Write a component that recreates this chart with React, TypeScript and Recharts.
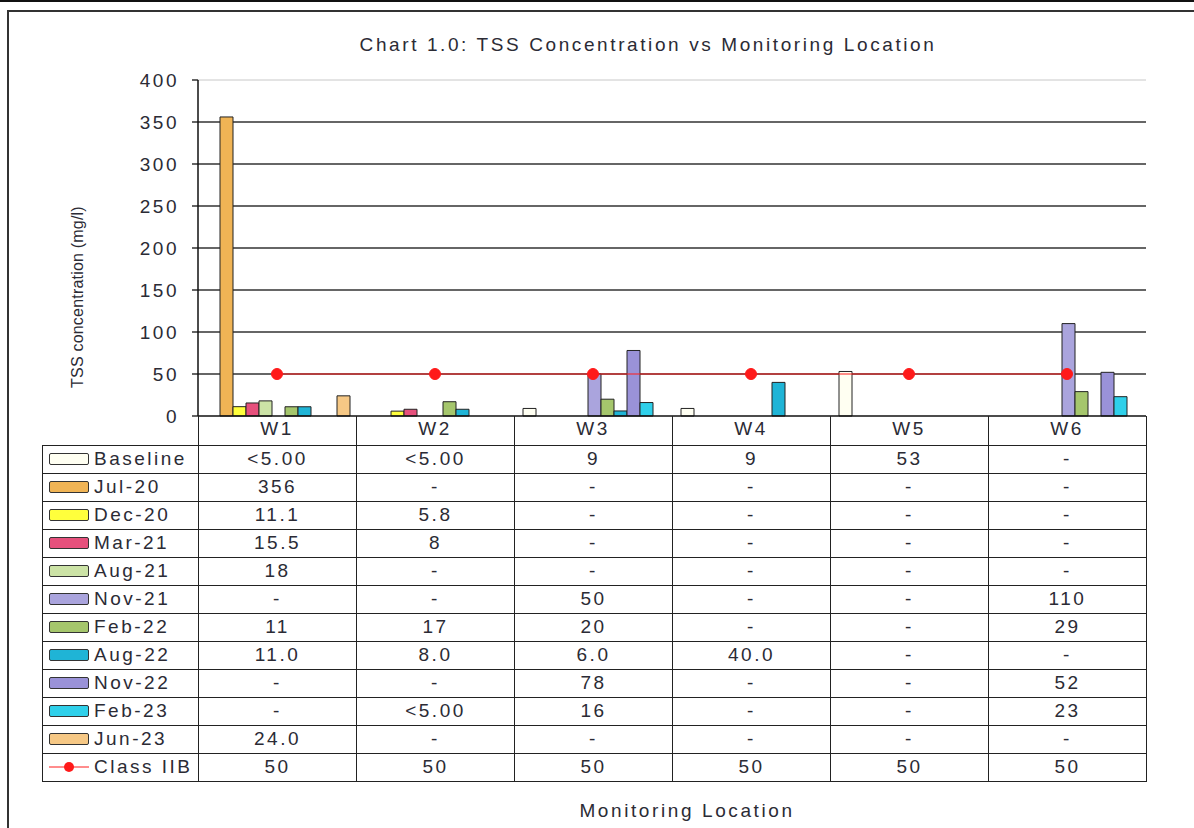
import { ComposedChart, Bar, Line, XAxis, YAxis, CartesianGrid, ReferenceLine } from 'recharts';

// values as printed in the data table; "<5.00" and "-" are not plotted
const LOCATIONS = ['W1', 'W2', 'W3', 'W4', 'W5', 'W6'];
const BASELINE = ['<5.00', '<5.00', '9', '9', '53', '-'];
const JUL_20 = ['356', '-', '-', '-', '-', '-'];
const DEC_20 = ['11.1', '5.8', '-', '-', '-', '-'];
const MAR_21 = ['15.5', '8', '-', '-', '-', '-'];
const AUG_21 = ['18', '-', '-', '-', '-', '-'];
const NOV_21 = ['-', '-', '50', '-', '-', '110'];
const FEB_22 = ['11', '17', '20', '-', '-', '29'];
const AUG_22 = ['11.0', '8.0', '6.0', '40.0', '-', '-'];
const NOV_22 = ['-', '-', '78', '-', '-', '52'];
const FEB_23 = ['-', '<5.00', '16', '-', '-', '23'];
const JUN_23 = ['24.0', '-', '-', '-', '-', '-'];
const CLASS_IIB = [50, 50, 50, 50, 50, 50];
const Y_TICKS = [0, 50, 100, 150, 200, 250, 300, 350, 400];

const SERIES = [
    { key: 'baseline', name: 'Baseline', values: BASELINE, fill: '#fffff2' },
    { key: 'jul20', name: 'Jul-20', values: JUL_20, fill: '#f0b455' },
    { key: 'dec20', name: 'Dec-20', values: DEC_20, fill: '#ffff3c' },
    { key: 'mar21', name: 'Mar-21', values: MAR_21, fill: '#e6507c' },
    { key: 'aug21', name: 'Aug-21', values: AUG_21, fill: '#cce3a6' },
    { key: 'nov21', name: 'Nov-21', values: NOV_21, fill: '#aaa4dd' },
    { key: 'feb22', name: 'Feb-22', values: FEB_22, fill: '#a5c66c' },
    { key: 'aug22', name: 'Aug-22', values: AUG_22, fill: '#1fb4d6' },
    { key: 'nov22', name: 'Nov-22', values: NOV_22, fill: '#9a92d8' },
    { key: 'feb23', name: 'Feb-23', values: FEB_23, fill: '#2fd0ea' },
    { key: 'jun23', name: 'Jun-23', values: JUN_23, fill: '#f6c885' },
];

const FONT = '"Liberation Sans", Arial, sans-serif';
const INK = '#2b2b35';
const LINE_RED = '#ff1a1a';

const toNum = (s: string) => {
    const n = Number(s);
    return Number.isFinite(n) ? n : null;
};

const data = LOCATIONS.map((loc, i) => {
    const row: Record<string, string | number | null> = { loc, classIIB: CLASS_IIB[i] };
    SERIES.forEach(s => {
        row[s.key] = toNum(s.values[i]);
    });
    return row;
});

const textStyle = { fill: INK, fontSize: 19, letterSpacing: 2.5, fontFamily: FONT };

const cellBorder = '1.5px solid #222';

function Swatch({ fill }: { fill: string }) {
    return (
        <span
            style={{
                display: 'inline-block',
                width: 38,
                height: 10,
                background: fill,
                border: '1px solid #333',
                borderRadius: 2,
                marginLeft: 6,
                marginRight: 5,
                flex: 'none',
            }}
        />
    );
}

function LineSwatch() {
    return (
        <svg width={40} height={14} style={{ marginLeft: 6, marginRight: 5, flex: 'none' }}>
            <line x1={0} y1={7} x2={40} y2={7} stroke={LINE_RED} strokeWidth={1} />
            <circle cx={20} cy={7} r={5} fill={LINE_RED} />
        </svg>
    );
}

function DataTable() {
    const rows = [
        ...SERIES.map(s => ({ name: s.name, cells: s.values, swatch: <Swatch fill={s.fill} /> })),
        { name: 'Class IIB', cells: CLASS_IIB.map(String), swatch: <LineSwatch /> },
    ];
    const td = { border: cellBorder, textAlign: 'center' as const, padding: 0, height: 27, lineHeight: '20px' };
    return (
        <table
            style={{
                position: 'absolute',
                left: 42,
                top: 416,
                borderCollapse: 'collapse',
                tableLayout: 'fixed',
                width: 1104,
                fontFamily: FONT,
                fontSize: 19,
                letterSpacing: 2.5,
                color: INK,
            }}
        >
            <colgroup>
                <col style={{ width: 156 }} />
                {LOCATIONS.map(l => (
                    <col key={l} style={{ width: 158 }} />
                ))}
            </colgroup>
            <tbody>
                <tr style={{ height: 29 }}>
                    <td style={{ padding: 0 }} />
                    {LOCATIONS.map(l => (
                        <td key={l} style={{ padding: 0, borderLeft: cellBorder, borderRight: cellBorder }} />
                    ))}
                </tr>
                {rows.map(r => (
                    <tr key={r.name}>
                        <td style={{ ...td, textAlign: 'left' }}>
                            <div style={{ display: 'flex', alignItems: 'center', whiteSpace: 'nowrap' }}>
                                {r.swatch}
                                <span>{r.name}</span>
                            </div>
                        </td>
                        {r.cells.map((c, i) => (
                            <td key={i} style={td}>
                                {c}
                            </td>
                        ))}
                    </tr>
                ))}
            </tbody>
        </table>
    );
}

export default function App() {
    return (
        <div
            style={{
                position: 'absolute',
                left: 0,
                top: 0,
                width: 1194,
                height: 828,
                overflow: 'hidden',
                background: '#fff',
                fontFamily: FONT,
            }}
        >
            <div style={{ position: 'absolute', left: 0, top: 0, width: 1194, height: 2, background: '#111' }} />
            <div
                style={{
                    position: 'absolute',
                    left: 7,
                    top: 10,
                    width: 1300,
                    height: 900,
                    border: '2px solid #333',
                }}
            />
            <ComposedChart
                width={1194}
                height={828}
                data={data}
                margin={{ top: 80, right: 48, left: 138, bottom: 383 }}
                barGap={0}
                barCategoryGap={9}
                style={{ position: 'absolute', left: 0, top: 0 }}
            >
                <CartesianGrid
                    yAxisId="l"
                    vertical={false}
                    horizontalValues={[50, 100, 150, 200, 250, 300, 350]}
                    stroke="#333"
                    strokeWidth={1.3}
                />
                <XAxis
                    dataKey="loc"
                    height={29}
                    interval={0}
                    axisLine={{ stroke: '#111', strokeWidth: 1.5 }}
                    tickLine={false}
                    tickSize={0}
                    tickMargin={6}
                    tick={textStyle}
                />
                <YAxis
                    yAxisId="l"
                    width={60}
                    domain={[0, 400]}
                    ticks={Y_TICKS}
                    interval={0}
                    axisLine={{ stroke: '#111', strokeWidth: 1.5 }}
                    tickLine={{ stroke: '#111', strokeWidth: 1.3 }}
                    tickSize={6}
                    tickMargin={13}
                    tick={textStyle}
                />
                <YAxis
                    yAxisId="r"
                    orientation="right"
                    width={0}
                    domain={[0, 400]}
                    tick={false}
                    tickLine={false}
                    axisLine={{ stroke: '#c8c8c8' }}
                />
                <ReferenceLine yAxisId="l" y={400} stroke="#c8c8c8" />
                {SERIES.map(s => (
                    <Bar
                        key={s.key}
                        yAxisId="l"
                        dataKey={s.key}
                        name={s.name}
                        fill={s.fill}
                        stroke="#222"
                        strokeWidth={1}
                        isAnimationActive={false}
                    />
                ))}
                <Line
                    yAxisId="l"
                    dataKey="classIIB"
                    name="Class IIB"
                    stroke={LINE_RED}
                    strokeWidth={1}
                    dot={{ r: 5.5, fill: LINE_RED, stroke: LINE_RED }}
                    isAnimationActive={false}
                />
            </ComposedChart>
            <DataTable />
            <div
                style={{
                    position: 'absolute',
                    left: 248,
                    top: 34,
                    width: 800,
                    textAlign: 'center',
                    fontSize: 19,
                    letterSpacing: 2.6,
                    color: INK,
                }}
            >
                Chart 1.0: TSS Concentration vs Monitoring Location
            </div>
            <div
                style={{
                    position: 'absolute',
                    left: -72,
                    top: 287,
                    width: 300,
                    height: 20,
                    lineHeight: '20px',
                    textAlign: 'center',
                    transform: 'rotate(-90deg)',
                    fontSize: 16,
                    letterSpacing: 0.2,
                    color: INK,
                }}
            >
                TSS concentration (mg/l)
            </div>
            <div
                style={{
                    position: 'absolute',
                    left: 487,
                    top: 800,
                    width: 400,
                    textAlign: 'center',
                    fontSize: 19,
                    letterSpacing: 2.6,
                    color: INK,
                }}
            >
                Monitoring Location
            </div>
        </div>
    );
}
